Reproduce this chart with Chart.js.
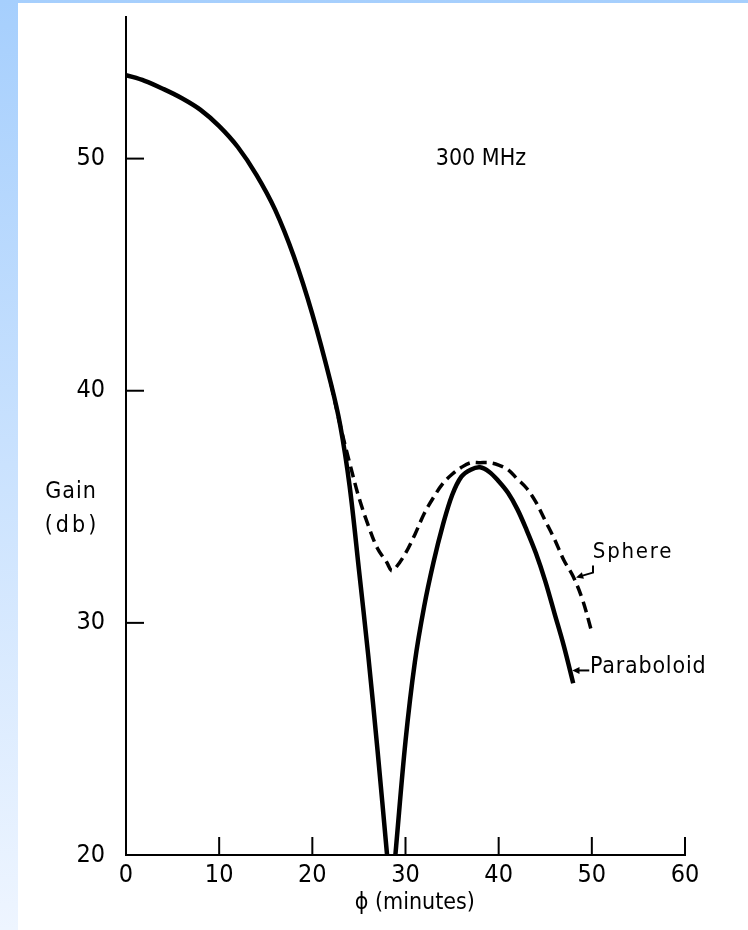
<!DOCTYPE html>
<html>
<head>
<meta charset="utf-8">
<script src="https://cdn.jsdelivr.net/npm/chart.js@4.4.0/dist/chart.umd.min.js"></script>
<style>
  html, body { margin: 0; padding: 0; }
  body {
    width: 748px; height: 930px; overflow: hidden; position: relative;
    background: linear-gradient(to bottom, #a6cffd, #eef5ff);
  }
  #box { position: absolute; left: 18px; top: 3px; width: 730px; height: 927px; background: #fff; }
</style>
</head>
<body>
<div id="box"><canvas id="c" width="730" height="927"></canvas></div>
<script>
// phi (minutes) vs gain (db)
let paraPhi = [0, 2, 4, 6, 8, 10, 12, 14, 16, 18, 20, 22, 23, 24, 25, 26, 27, 28, 28.25, 28.45, 28.7, 29, 30, 31, 32, 33, 34, 35, 36, 37, 38, 39, 40, 41, 42, 43, 44, 45, 46, 47, 48]
let paraGain = [53.6, 53.35, 53.0, 52.6, 52.1, 51.4, 50.5, 49.3, 47.8, 45.8, 43.3, 40.3, 38.5, 35.9, 32.3, 28.6, 24.5, 20.1, 19, null, 19, 20.4, 24.9, 28.3, 30.7, 32.6, 34.2, 35.5, 36.3, 36.6, 36.7, 36.5, 36.1, 35.6, 34.9, 34.0, 33.0, 31.8, 30.4, 29.0, 27.4]

let spherePhi = [22, 23, 24, 25, 26, 27, 28, 28.5, 29, 30, 31, 32, 33, 34, 35, 36, 37, 38, 39, 40, 41, 42, 43, 44, 45, 46, 47, 48, 49, 50]
let sphereGain = [40.3, 38.5, 36.9, 35.4, 34.2, 33.2, 32.6, 32.25, 32.4, 33.0, 33.8, 34.7, 35.4, 36.0, 36.4, 36.7, 36.9, 36.9, 36.9, 36.8, 36.6, 36.2, 35.8, 35.2, 34.4, 33.6, 32.7, 32.0, 31.0, 29.6]

let xTicks = [0, 10, 20, 30, 40, 50, 60]
let yTicks = [20, 30, 40, 50]

const FONT = '"DejaVu Sans Condensed", "DejaVu Sans", sans-serif'

function pts(xs, ys) {
    return xs.map((x, i) => ({ x: x, y: ys[i] }))
}

function arrowHead(ctx, x1, y1, x2, y2) {
    // head at x2,y2
    let a = Math.atan2(y2 - y1, x2 - x1)
    ctx.beginPath()
    ctx.moveTo(x2, y2)
    ctx.lineTo(x2 - 8 * Math.cos(a - 0.45), y2 - 8 * Math.sin(a - 0.45))
    ctx.lineTo(x2 - 8 * Math.cos(a + 0.45), y2 - 8 * Math.sin(a + 0.45))
    ctx.closePath()
    ctx.fill()
}

const extras = {
    id: 'extras',
    afterDraw(chart) {
        let ctx = chart.ctx
        let xs = chart.scales.x, ys = chart.scales.y
        let area = chart.chartArea
        ctx.save()
        ctx.strokeStyle = '#000'
        ctx.fillStyle = '#000'
        ctx.lineWidth = 2

        // inward tick marks
        xTicks.slice(1).forEach(v => {
            let px = xs.getPixelForValue(v)
            ctx.beginPath()
            ctx.moveTo(px, area.bottom)
            ctx.lineTo(px, area.bottom - 18)
            ctx.stroke()
        })
        yTicks.slice(1).forEach(v => {
            let py = ys.getPixelForValue(v)
            ctx.beginPath()
            ctx.moveTo(area.left, py)
            ctx.lineTo(area.left + 18, py)
            ctx.stroke()
        })

        ctx.textBaseline = 'middle'
        ctx.textAlign = 'center'
        ctx.font = '23px ' + FONT
        ctx.letterSpacing = '0px'
        ctx.fillText('300 MHz', xs.getPixelForValue(38.1), ys.getPixelForValue(50))

        // axis captions
        ctx.letterSpacing = '1px'
        ctx.fillText('Gain', area.left - 55, 489)
        ctx.letterSpacing = '3px'
        ctx.fillText('(db)', area.left - 54, 523)
        ctx.letterSpacing = '0px'
        ctx.fillText('ϕ (minutes)', xs.getPixelForValue(31), 900)

        // curve labels
        ctx.textAlign = 'left'
        ctx.font = '22px ' + FONT
        ctx.letterSpacing = '1.8px'
        ctx.fillText('Sphere', xs.getPixelForValue(50.1), ys.getPixelForValue(33.05))
        ctx.font = '23px ' + FONT
        ctx.letterSpacing = '0.8px'
        ctx.fillText('Paraboloid', xs.getPixelForValue(49.8), ys.getPixelForValue(28.1))
        ctx.letterSpacing = '0px'

        // sphere pointer
        let hx = xs.getPixelForValue(48.3), hy = ys.getPixelForValue(31.95)
        ctx.lineWidth = 2
        ctx.beginPath()
        ctx.moveTo(hx + 17, hy - 12)
        ctx.lineTo(hx + 17, hy - 5)
        ctx.lineTo(hx + 10, hy - 3)
        ctx.lineTo(hx + 3, hy - 1)
        ctx.stroke()
        arrowHead(ctx, hx + 10, hy - 3, hx, hy)

        // paraboloid pointer
        let px = xs.getPixelForValue(47.9), py = ys.getPixelForValue(27.95)
        ctx.beginPath()
        ctx.moveTo(px + 17, py)
        ctx.lineTo(px + 5, py)
        ctx.stroke()
        arrowHead(ctx, px + 17, py, px, py)

        ctx.restore()
    }
}

new Chart(document.getElementById('c'), {
    type: 'line',
    data: {
        datasets: [
            {
                label: 'Paraboloid',
                data: pts(paraPhi, paraGain),
                borderColor: '#000',
                borderWidth: 4.5,
                pointRadius: 0,
                tension: 0.35,
                spanGaps: false
            },
            {
                label: 'Sphere',
                data: pts(spherePhi, sphereGain),
                borderColor: '#000',
                borderWidth: 3.5,
                borderDash: [11, 6],
                pointRadius: 0,
                tension: 0.35
            }
        ]
    },
    options: {
        responsive: false,
        animation: false,
        layout: { padding: { left: 0, top: 14, right: 63, bottom: 0 } },
        plugins: { legend: { display: false }, tooltip: { enabled: false } },
        scales: {
            x: {
                type: 'linear',
                min: 0,
                max: 60,
                afterBuildTicks: s => { s.ticks = xTicks.map(v => ({ value: v })) },
                afterFit: s => { s.height = 75; s.paddingLeft = 0; s.paddingRight = 0 },
                grid: { display: false, drawTicks: false },
                border: { display: true, color: '#000', width: 2 },
                ticks: { color: '#000', font: { family: FONT, size: 25 }, padding: 5, maxRotation: 0 }
            },
            y: {
                type: 'linear',
                min: 20,
                max: 56.1,
                afterBuildTicks: s => { s.ticks = yTicks.map(v => ({ value: v })) },
                afterFit: s => { s.width = 108; s.paddingTop = 0; s.paddingBottom = 0 },
                grid: { display: false, drawTicks: false },
                border: { display: true, color: '#000', width: 2 },
                ticks: { color: '#000', font: { family: FONT, size: 25 }, padding: 21 }
            }
        }
    },
    plugins: [extras]
})
</script>
</body>
</html>
